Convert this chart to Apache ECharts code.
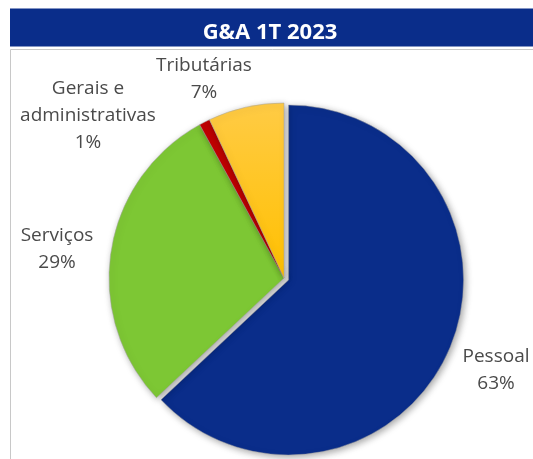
<!DOCTYPE html>
<html>
<head>
<meta charset="utf-8">
<script src="https://cdn.jsdelivr.net/npm/echarts@6/dist/echarts.min.js"></script>
<style>
html,body{margin:0;padding:0;background:#fff;}
#chart{width:533px;height:459px;}
</style>
</head>
<body>
<div id="chart"></div>
<script>
const titleText = 'G&A 1T 2023';
const categories = ['Pessoal', 'Serviços', 'Gerais e\nadministrativas', 'Tributárias'];
const values = [63, 29, 1, 7];
const colors = ['#0A2D8A', '#7DC734', '#C00000', null];

// label anchor positions (centre of each label block)
const labelPos = [[496, 370], [57, 249], [88, 116], [204, 79]];

const chart = echarts.init(document.getElementById('chart'), null, {renderer: 'canvas'});

const sliceData = categories.map((c, i) => {
  const item = {name: c, value: values[i]};
  if (i === 3) {
    item.itemStyle = {color: new echarts.graphic.LinearGradient(0, 0, 0, 1, [
      {offset: 0, color: '#FFCB45'}, {offset: 1, color: '#FFC000'}
    ])};
  } else {
    item.itemStyle = {color: colors[i]};
  }
  if (i === 0) item.selected = true;
  return item;
});
const labelData = categories.map((c, i) => ({name: c, value: values[i]}));

chart.setOption({
  animation: false,
  graphic: [
    {type: 'rect', z: 0, shape: {x: 10.5, y: 49.5, width: 530, height: 420},
     style: {fill: '#fff', stroke: '#c8c8c8', lineWidth: 1}},
    {type: 'rect', z: 1, shape: {x: 10, y: 8.5, width: 530, height: 38},
     style: {fill: '#0A2D8A'}},
    {type: 'text', z: 2, style: {text: titleText, x: 270, y: 32.5, align: 'center', verticalAlign: 'middle',
      fill: '#fff', font: 'bold 22px "Open Sans"'}}
  ],
  series: [{
    type: 'pie',
    center: [284, 278],
    radius: 175,
    startAngle: 90,
    clockwise: true,
    selectedMode: 'multiple',
    selectedOffset: 5,
    z: 5,
    data: sliceData,
    itemStyle: {
      borderColor: 'rgba(160,160,160,0.6)',
      borderWidth: 0.8,
      shadowBlur: 7,
      shadowColor: 'rgba(0,0,0,0.35)',
      shadowOffsetX: 2,
      shadowOffsetY: 2
    },
    emphasis: {disabled: true},
    label: {show: false},
    labelLine: {show: false}
  }, {
    type: 'pie',
    center: [284, 278],
    radius: 175,
    startAngle: 90,
    clockwise: true,
    percentPrecision: 0,
    silent: true,
    z: 6,
    data: labelData,
    itemStyle: {color: 'rgba(0,0,0,0)', borderWidth: 0},
    emphasis: {disabled: true},
    label: {
      show: true,
      position: 'outside',
      alignTo: 'none',
      overflow: 'none',
      formatter: '{b}\n{d}%',
      color: '#4a4a4a',
      fontFamily: 'Open Sans',
      fontSize: 19,
      lineHeight: 27,
      align: 'center'
    },
    labelLine: {show: false},
    labelLayout: function (p) {
      const pos = labelPos[p.dataIndex];
      return {x: pos[0], y: pos[1], align: 'center', verticalAlign: 'middle'};
    }
  }]
});
</script>
</body>
</html>
